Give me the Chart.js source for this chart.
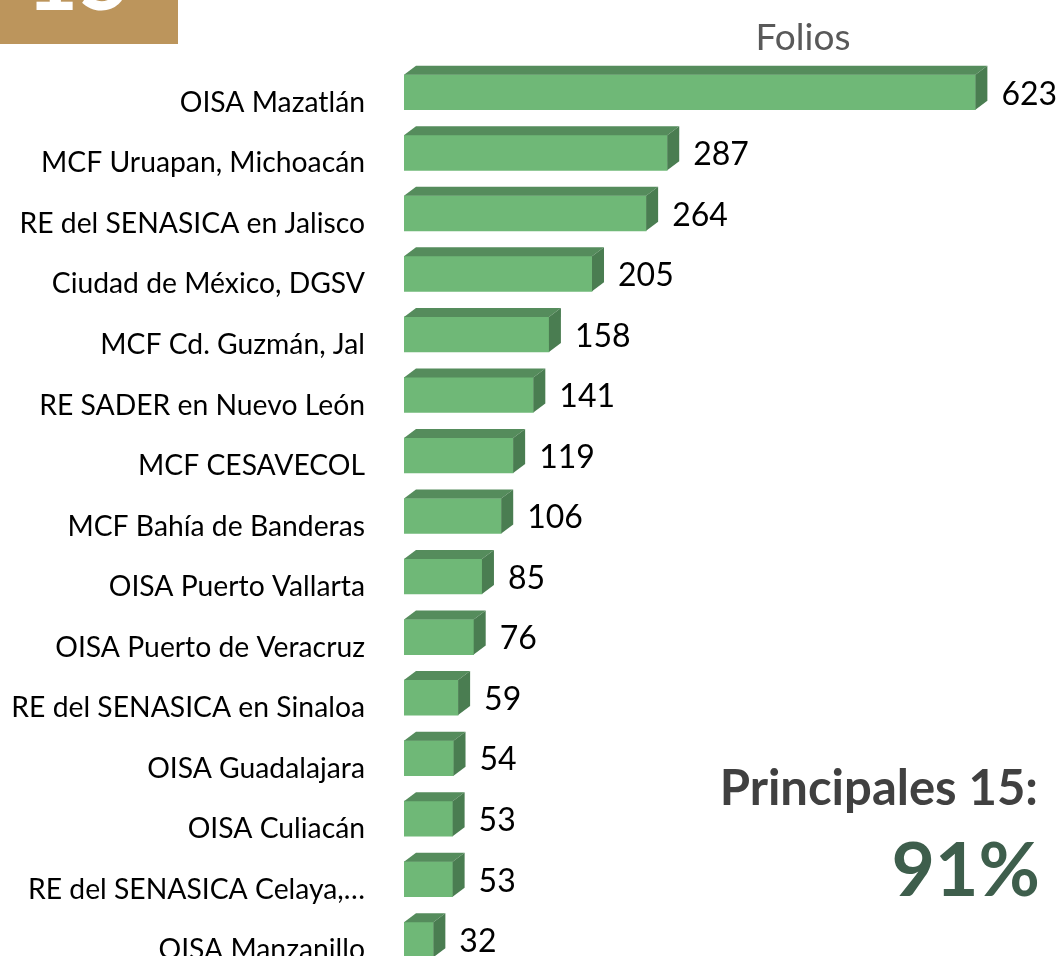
<!DOCTYPE html>
<html>
<head>
<meta charset="utf-8">
<script src="https://cdn.jsdelivr.net/npm/chart.js@4/dist/chart.umd.min.js"></script>
<style>
  html, body { margin:0; padding:0; width:1060px; height:956px; overflow:hidden; background:#fff; }
  #wrap { position:absolute; left:0; top:0; width:1060px; height:970px; }
  .txt { position:absolute; font-family: Lato, sans-serif; line-height:1; white-space:nowrap; }
  #badge { position:absolute; left:0; top:0; width:178px; height:44px; background:#BC955C; overflow:hidden; }
  #badge span { position:absolute; left:26px; top:-70px; font-family:Lato, sans-serif; font-weight:700; font-size:90px; line-height:1; color:#fff; }
</style>
</head>
<body>
<div id="wrap"><canvas id="c" width="1060" height="970"></canvas></div>
<div id="badge"><span>15</span></div>
<div class="txt" id="folios" style="left:703px; width:200px; text-align:center; top:17px; font-size:37px; color:#595959;">Folios</div>
<div class="txt" id="princ" style="right:22px; top:762px; font-size:49px; font-weight:700; color:#404040;">Principales 15:</div>
<div class="txt" id="pct" style="right:20px; top:830px; font-size:75px; font-weight:700; color:#3E5E4C;">91%</div>
<script>
const categories = ['OISA Mazatlán','MCF Uruapan, Michoacán','RE del SENASICA en Jalisco','Ciudad de México, DGSV','MCF Cd. Guzmán, Jal','RE SADER en Nuevo León','MCF CESAVECOL','MCF Bahía de Banderas','OISA Puerto Vallarta','OISA Puerto de Veracruz','RE del SENASICA en Sinaloa','OISA Guadalajara','OISA Culiacán','RE del SENASICA Celaya,…','OISA Manzanillo'];
const values = [623,287,264,205,158,141,119,106,85,76,59,54,53,53,32];

const FRONT = '#6FB877', TOP = '#558C5C', SIDE = '#4A7D51';
const DX = 12, DY = 9;

const bar3d = {
  id: 'bar3d',
  afterDatasetsDraw(chart) {
    const ctx = chart.ctx;
    const meta = chart.getDatasetMeta(0);
    meta.data.forEach((bar, i) => {
      const p = bar.getProps(['x','y','base','height'], true);
      const x0 = p.base, x1 = p.x, t = p.y - p.height/2, b = p.y + p.height/2;
      ctx.save();
      ctx.fillStyle = TOP;
      ctx.beginPath();
      ctx.moveTo(x0, t); ctx.lineTo(x0+DX, t-DY); ctx.lineTo(x1+DX, t-DY); ctx.lineTo(x1, t); ctx.closePath();
      ctx.fill();
      ctx.fillStyle = SIDE;
      ctx.beginPath();
      ctx.moveTo(x1, t); ctx.lineTo(x1+DX, t-DY); ctx.lineTo(x1+DX, b-DY); ctx.lineTo(x1, b); ctx.closePath();
      ctx.fill();
      ctx.fillStyle = '#000';
      ctx.font = '32px Lato';
      ctx.textAlign = 'left';
      ctx.textBaseline = 'middle';
      ctx.fillText(String(values[i]), x1 + 26, p.y + 2);
      ctx.restore();
    });
  }
};

new Chart(document.getElementById('c'), {
  type: 'bar',
  data: {
    labels: categories,
    datasets: [{ data: values, backgroundColor: FRONT, borderWidth: 0, barThickness: 35 }]
  },
  options: {
    indexAxis: 'y',
    responsive: false,
    animation: false,
    devicePixelRatio: 1,
    layout: { padding: { top: 62, right: 14, bottom: 0, left: 0 } },
    plugins: { legend: { display: false }, tooltip: { enabled: false } },
    scales: {
      x: { display: false, min: 0, max: 700 },
      y: {
        grid: { display: false, drawTicks: false },
        border: { display: false },
        ticks: { color: '#000', font: { family: 'Lato', size: 28.3 }, padding: 39, labelOffset: 10.5 },
        afterFit(scale) { scale.width = 404; scale.paddingTop = 0; scale.paddingBottom = 0; }
      }
    }
  },
  plugins: [bar3d]
});
</script>
</body>
</html>
